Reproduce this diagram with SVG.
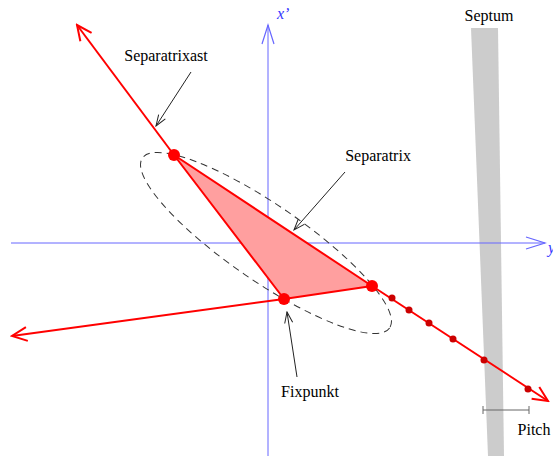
<svg xmlns="http://www.w3.org/2000/svg" width="553" height="456" viewBox="0 0 553 456">
<style>
text{font-family:"Liberation Serif","Times New Roman",serif;font-size:16px;fill:#000}
.ax{stroke:#6666ff;stroke-width:1;fill:none}
.ax-t{fill:#3333ff;font-style:italic}
.red{stroke:#ff0000;stroke-width:2;fill:none}
.ptr{stroke:#222;stroke-width:1;fill:none}
.big{fill:#ff0000}
.small{fill:#cc0000}
</style>
<defs>
<marker id="ab" viewBox="-22 -8 24 16" refX="0" refY="0" markerWidth="24" markerHeight="16" markerUnits="userSpaceOnUse" orient="auto"><path d="M-19,-6 L0,0 L-19,6" fill="none" stroke="#6666ff" stroke-width="1.2"/></marker>
<marker id="ar" viewBox="-18 -9 20 18" refX="0" refY="0" markerWidth="20" markerHeight="18" markerUnits="userSpaceOnUse" orient="auto"><path d="M-15,-7 L0,0 L-15,7" fill="none" stroke="#ff0000" stroke-width="2"/></marker>
<marker id="ak" viewBox="-13 -6 14 12" refX="0" refY="0" markerWidth="14" markerHeight="12" markerUnits="userSpaceOnUse" orient="auto"><path d="M-11,-4 L0,0 L-11,4" fill="none" stroke="#222" stroke-width="1"/></marker>
</defs>
<g id="septum"><polygon points="471,28 498,28 504,456 488,456" fill="#cccccc"/><text x="489" y="21" text-anchor="middle">Septum</text></g>
<g id="axes">
<line class="ax" x1="11" y1="243" x2="545" y2="243" marker-end="url(#ab)"/>
<line class="ax" x1="268" y1="456" x2="268" y2="25" marker-end="url(#ab)"/>
<text class="ax-t" x="277" y="19">x’</text>
<text class="ax-t" x="548" y="253">y’</text>
</g>
<g id="ellipse"><ellipse cx="266" cy="243" rx="150" ry="38" transform="rotate(34.5 266 243)" fill="none" stroke="#333" stroke-width="1" stroke-dasharray="7,5"/></g>
<g id="connectors">
<line class="red" x1="174" y1="155" x2="77" y2="25" marker-end="url(#ar)"/>
<line class="red" x1="284" y1="299" x2="12" y2="336" marker-end="url(#ar)"/>
<line class="red" x1="372" y1="286" x2="548" y2="401" marker-end="url(#ar)"/>
<line class="ptr" x1="191" y1="72" x2="156" y2="126" marker-end="url(#ak)"/>
<line class="ptr" x1="345" y1="172" x2="294" y2="230" marker-end="url(#ak)"/>
<line class="ptr" x1="297" y1="377" x2="287" y2="312" marker-end="url(#ak)"/>
</g>
<g id="triangle"><polygon points="174,155 284,299 372,286" fill="#ff9f9f" stroke="#ff0000" stroke-width="2" stroke-linejoin="round"/></g>
<g id="points">
<circle class="big" cx="174" cy="155" r="6"/>
<circle class="big" cx="284" cy="299" r="6"/>
<circle class="big" cx="372" cy="286" r="6"/>
<circle class="small" cx="392" cy="298" r="3.5"/>
<circle class="small" cx="409" cy="310" r="3.5"/>
<circle class="small" cx="429" cy="323" r="3.5"/>
<circle class="small" cx="453" cy="339" r="3.5"/>
<circle class="small" cx="484" cy="360" r="3.5"/>
<circle class="small" cx="528" cy="389" r="3.5"/>
</g>
<g id="pitch">
<path d="M483,410 H529 M483,406 V414 M529,406 V414" stroke="#666" stroke-width="1" fill="none"/>
<text x="534" y="435" text-anchor="middle">Pitch</text>
</g>
<g id="labels">
<text x="166" y="61" text-anchor="middle">Separatrixast</text>
<text x="378" y="161" text-anchor="middle">Separatrix</text>
<text x="310" y="397" text-anchor="middle">Fixpunkt</text>
</g>
</svg>
